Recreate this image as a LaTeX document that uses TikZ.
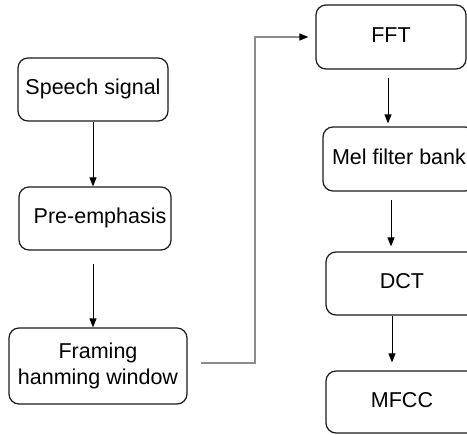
\documentclass[tikz,border=0pt]{standalone}
\usepackage{fontspec}
\setmainfont{Liberation Sans}
\usetikzlibrary{arrows.meta,calc}
\definecolor{boxline}{HTML}{1A1A1A}
\definecolor{grayline}{HTML}{8C8C8C}
\begin{document}
\begin{tikzpicture}[x=1pt,y=-1pt,
  box/.style={draw=boxline,line width=1.2pt,rounded corners=10pt,inner sep=2pt,
    font=\fontsize{21.5}{26}\selectfont,align=center},
  oneline/.style={text height=15.5pt,text depth=4.5pt},
  conn/.style={draw=black,line width=0.9pt,-{Triangle[length=9pt,width=7pt]}},
  grayconn/.style={draw=grayline,line width=1.1pt,-{Triangle[length=9pt,width=7pt,color=black]},shorten >=7pt}]
\useasboundingbox (0,0) rectangle (467,435);
\clip (0,0) rectangle (467,435);
% left column
\node[box,oneline,minimum width=150pt,minimum height=63pt] (sig) at (93,89.5) {Speech signal};
\node[box,oneline,minimum width=152pt,minimum height=63pt] (pre) at (95,218.5) {\hspace*{10pt}Pre-emphasis};
\node[box,minimum width=178pt,minimum height=76pt] (frame) at (98,366) {Framing\\hanming window};
% right column
\node[box,oneline,minimum width=150pt,minimum height=64pt] (fft) at (391,37) {FFT};
\node[box,oneline,minimum width=152pt,minimum height=64pt] (mel) at (399,159) {Mel filter bank};
\node[box,oneline,minimum width=152pt,minimum height=63pt] (dct) at (402,283.5) {DCT};
\node[box,oneline,minimum width=152pt,minimum height=62pt] (mfcc) at (402,402) {MFCC};
% connectors
\draw[conn] (sig.south) -- (sig.south |- pre.north);
\draw[conn] ([yshift=-13pt]sig.south |- pre.south) -- (sig.south |- frame.north);
\coordinate (gstart) at (201,363);
\coordinate (gbend) at (255,37);
\draw[grayconn] (gstart) -| (gbend) -- (fft.west);
\coordinate (fx) at (388,0);
\draw[conn] ([yshift=-8pt]fx |- fft.south) -- ([yshift=3pt]fx |- mel.north);
\coordinate (mx) at (391,0);
\draw[conn] ([yshift=-8pt]mx |- mel.south) -- ([yshift=5pt]mx |- dct.north);
\coordinate (dx) at (392,0);
\draw[conn] (dx |- dct.south) -- ([yshift=8pt]dx |- mfcc.north);
\end{tikzpicture}
\end{document}
